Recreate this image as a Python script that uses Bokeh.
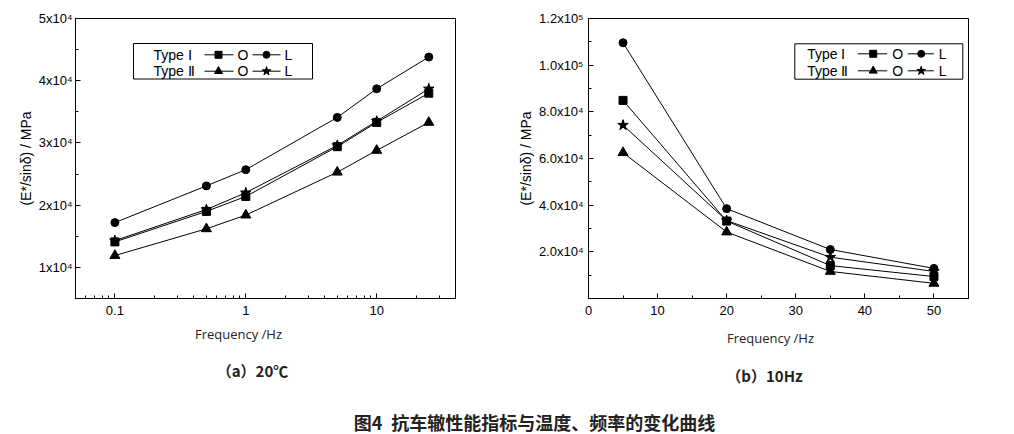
import numpy as np
from bokeh.plotting import figure
from bokeh.models import Range1d, FixedTicker, Label
from bokeh.layouts import column, row
from bokeh.embed import file_html
from bokeh.resources import INLINE
from bokeh.core.properties import value

# ---------------- data ----------------
freq_hz = [0.1, 0.5, 1, 5, 10, 25]
typeI_O_20C = [14100, 19000, 21400, 29400, 33300, 38000]
typeI_L_20C = [17200, 23100, 25700, 34100, 38700, 43800]
typeII_O_20C = [11900, 16200, 18400, 25300, 28800, 33300]
typeII_L_20C = [14300, 19300, 22000, 29600, 33500, 38700]

temp_c = [5, 20, 35, 50]
typeI_O_10Hz = [84900, 33200, 14100, 9400]
typeI_L_10Hz = [109600, 38500, 21000, 12900]
typeII_O_10Hz = [62500, 28500, 11600, 6500]
typeII_L_10Hz = [74300, 33400, 17700, 11600]

x1_ticks = [0.1, 1, 10]
x1_tick_labels = ["0.1", "1", "10"]
y1_ticks = [10000, 20000, 30000, 40000, 50000]
y1_minor = [5000, 15000, 25000, 35000, 45000]
y1_tick_labels = ["1x10\u2074", "2x10\u2074", "3x10\u2074", "4x10\u2074", "5x10\u2074"]

x2_ticks = [0, 10, 20, 30, 40, 50]
x2_minor = [5, 15, 25, 35, 45, 55]
y2_ticks = [20000, 40000, 60000, 80000, 100000, 120000]
y2_minor = [10000, 30000, 50000, 70000, 90000, 110000]
y2_tick_labels = ["2.0x10\u2074", "4.0x10\u2074", "6.0x10\u2074", "8.0x10\u2074",
                  "1.0x10\u2075", "1.2x10\u2075"]

ylabel = "(E*/sin\u03b4) / MPa"
xlabel = "Frequency /Hz"
cap_a = "\uff08a\uff0920\u2103"
cap_b = "\uff08b\uff0910Hz"
main_title = "图4\u2002抗车辙性能指标与温度、频率的变化曲线"
legend_rows = ["Type \u2160", "Type \u2161"]

# ---------------- layout constants (page pixels) ----------------
FW, FH = 380, 280
TOP = 18
FIG_H = 322
BOT = FIG_H - TOP - FH
PAGE_W, PAGE_H = 1014, 434
TICK_FONT = "Liberation Sans"

X1_LO, X1_HI = 0.05, 40
Y1_LO, Y1_HI = 5000, 50000
X2_LO, X2_HI = 0, 55
Y2_LO, Y2_HI = 0, 120000


def p1x(px):
    a, b = np.log10(X1_LO), np.log10(X1_HI)
    return 10 ** (a + (px - 75) / FW * (b - a))


def p1y(py):
    return Y1_HI - (py - 18) / FH * (Y1_HI - Y1_LO)


def p2x(px):
    return X2_LO + (px - 588) / FW * (X2_HI - X2_LO)


def p2y(py):
    return Y2_HI - (py - 18) / FH * (Y2_HI - Y2_LO)


def style(p):
    p.outline_line_color = "black"
    p.outline_line_width = 1
    p.outline_line_alpha = 1
    p.grid.visible = False
    p.background_fill_color = "white"
    p.border_fill_color = "white"
    for ax in p.axis:
        ax.axis_line_color = "black"
        ax.major_tick_in = 5
        ax.major_tick_out = 0
        ax.minor_tick_in = 3
        ax.minor_tick_out = 0
        ax.major_tick_line_color = "black"
        ax.minor_tick_line_color = "black"
        ax.major_label_text_font = TICK_FONT
        ax.major_label_text_font_size = "13px"
        ax.major_label_text_color = "black"
        ax.axis_label_text_font = "Liberation Sans"
        ax.axis_label_text_font_size = "14px"
        ax.axis_label_text_font_style = "normal"
        ax.axis_label_text_color = "black"


def draw_series(p, xs, ys, marker, size):
    p.line(xs, ys, line_color="black", line_width=1)
    p.scatter(xs, ys, marker=marker, size=size, fill_color="black", line_color="black")


def draw_legend(p, fx, fy, box, rows_y, tx, seg1, m1, ox, seg2, m2, lx):
    l, r, t, b = box
    p.quad(left=[fx(l)], right=[fx(r)], top=[fy(t)], bottom=[fy(b)],
           fill_color="white", line_color="black", line_width=1)
    markers = [("square", "circle", 7, 7), ("triangle", "star", 8, 9)]
    for i, yy in enumerate(rows_y):
        y = fy(yy)
        p.segment(x0=[fx(seg1[0]), fx(seg2[0])], y0=[y, y],
                  x1=[fx(seg1[1]), fx(seg2[1])], y1=[y, y],
                  line_color="black", line_width=1)
        mk1, mk2, s1, s2 = markers[i]
        p.scatter([fx(m1)], [y], marker=mk1, size=s1, fill_color="black", line_color="black")
        p.scatter([fx(m2)], [y], marker=mk2, size=s2, fill_color="black", line_color="black")
        p.text(x=[fx(tx)], y=[y], text=[legend_rows[i]], text_font=value("Liberation Sans"),
               text_font_size=value("14px"), text_baseline="middle", text_align="left",
               text_color="black")
        p.text(x=[fx(ox), fx(lx)], y=[y, y], text=["O", "L"], text_font=value("Liberation Sans"),
               text_font_size=value("14px"), text_baseline="middle", text_align="left",
               text_color="black")


# ---------------- left plot (a) ----------------
p1 = figure(frame_width=FW, frame_height=FH, x_axis_type="log",
            x_range=Range1d(X1_LO, X1_HI), y_range=Range1d(Y1_LO, Y1_HI),
            min_border_left=75, min_border_right=52, min_border_top=TOP,
            min_border_bottom=BOT, toolbar_location=None, output_backend="svg",
            title=None)
style(p1)
p1.xaxis.ticker.num_minor_ticks = 10
p1.xaxis.major_label_overrides = {t: s for t, s in zip(x1_ticks, x1_tick_labels)}
p1.yaxis.ticker = FixedTicker(ticks=y1_ticks, minor_ticks=y1_minor)
p1.yaxis.major_label_overrides = {t: s for t, s in zip(y1_ticks, y1_tick_labels)}
p1.yaxis.axis_label = ylabel
p1.yaxis.major_label_standoff = 3
p1.yaxis.axis_label_standoff = 2
p1.xaxis.major_label_standoff = 7

draw_series(p1, freq_hz, typeI_O_20C, "square", 8)
draw_series(p1, freq_hz, typeI_L_20C, "circle", 8)
draw_series(p1, freq_hz, typeII_O_20C, "triangle", 10)
draw_series(p1, freq_hz, typeII_L_20C, "star", 11)

draw_legend(p1, p1x, p1y, (133, 312, 43, 78.5), (54.3, 70.7), 153,
            (204, 233), 218, 237, (252, 280), 266, 284)

# ---------------- right plot (b) ----------------
p2 = figure(frame_width=FW, frame_height=FH,
            x_range=Range1d(X2_LO, X2_HI), y_range=Range1d(Y2_LO, Y2_HI),
            min_border_left=81, min_border_right=PAGE_W - 507 - 81 - FW, min_border_top=TOP,
            min_border_bottom=BOT, toolbar_location=None, output_backend="svg",
            title=None)
style(p2)
p2.xaxis.ticker = FixedTicker(ticks=x2_ticks, minor_ticks=x2_minor)
p2.yaxis.ticker = FixedTicker(ticks=y2_ticks, minor_ticks=y2_minor)
p2.yaxis.major_label_overrides = {t: s for t, s in zip(y2_ticks, y2_tick_labels)}
p2.yaxis.axis_label = ylabel
p2.yaxis.major_label_standoff = 5
p2.yaxis.axis_label_standoff = 2
p2.xaxis.major_label_standoff = 7

draw_series(p2, temp_c, typeI_O_10Hz, "square", 8)
draw_series(p2, temp_c, typeI_L_10Hz, "circle", 8)
draw_series(p2, temp_c, typeII_O_10Hz, "triangle", 10)
draw_series(p2, temp_c, typeII_L_10Hz, "star", 11)

draw_legend(p2, p2x, p2y, (794.3, 962.3, 43.3, 78.7), (53.3, 70.3), 806.7,
            (857.3, 886.7), 872.7, 891.7, (907.3, 933.3), 920.7, 938.3)

# ---------------- captions strip (page-pixel coordinates) ----------------
P3_H = PAGE_H - FIG_H
p3 = figure(frame_width=PAGE_W, frame_height=P3_H, x_range=Range1d(0, PAGE_W),
            y_range=Range1d(PAGE_H, FIG_H), x_axis_type=None, y_axis_type=None,
            min_border=0, toolbar_location=None, output_backend="svg", title=None)
p3.outline_line_color = None
p3.grid.visible = False
p3.background_fill_color = "white"
p3.border_fill_color = "white"

for (x, y) in [(238, 333), (770, 337)]:
    p3.add_layout(Label(x=x, y=y, text=xlabel, text_align="center",
                        text_baseline="middle", text_font="Open Sans",
                        text_font_size="13px", text_color="#222222"))
for (x, y, t) in [(252, 370, cap_a), (764, 375, cap_b)]:
    p3.add_layout(Label(x=x, y=y, text=t, text_align="center",
                        text_baseline="middle", text_font="Noto Sans CJK SC",
                        text_font_style="bold", text_font_size="15px", text_color="#222222"))
p3.add_layout(Label(x=534, y=421, text=main_title, text_align="center",
                    text_baseline="middle", text_font="Noto Sans CJK SC",
                    text_font_style="bold", text_font_size="18px", text_color="#222222"))

layout = column(row(p1, p2), p3)
open("out.html", "w").write(file_html(layout, INLINE))
